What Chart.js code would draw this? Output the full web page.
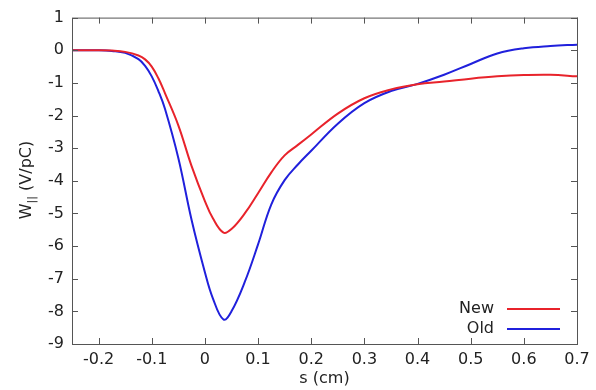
<!DOCTYPE html>
<html>
<head>
<meta charset="utf-8">
<script src="https://cdn.jsdelivr.net/npm/chart.js@4.4.1/dist/chart.umd.min.js"></script>
<style>
  html, body { margin: 0; padding: 0; background: #fff; }
  #wrap { width: 596px; height: 390px; }
</style>
</head>
<body>
<div id="wrap"><canvas id="wake"></canvas></div>
<script>
// s positions (cm) of the sampled points
const sValues = [-0.25, -0.2, -0.175, -0.15, -0.125, -0.1125, -0.1, -0.0875, -0.075, -0.05, -0.025, 0, 0.015, 0.035, 0.05, 0.075, 0.1, 0.125, 0.15, 0.175, 0.2, 0.25, 0.3, 0.35, 0.4, 0.45, 0.5, 0.55, 0.6, 0.65, 0.7];
// wake potential W|| (V/pC)
const newWake = [0, 0, -0.01, -0.05, -0.16, -0.28, -0.5, -0.86, -1.32, -2.3, -3.55, -4.62, -5.15, -5.59, -5.48, -5.0, -4.38, -3.74, -3.22, -2.9, -2.58, -1.94, -1.47, -1.2, -1.04, -0.96, -0.87, -0.8, -0.76, -0.75, -0.8];
const oldWake = [0, 0, -0.02, -0.08, -0.27, -0.48, -0.8, -1.25, -1.8, -3.3, -5.2, -6.8, -7.6, -8.25, -8.0, -7.1, -5.95, -4.72, -3.98, -3.5, -3.08, -2.25, -1.62, -1.25, -1.03, -0.75, -0.42, -0.1, 0.06, 0.13, 0.17];

const xTicks = [-0.2, -0.1, 0, 0.1, 0.2, 0.3, 0.4, 0.5, 0.6, 0.7];
const yTicks = [1, 0, -1, -2, -3, -4, -5, -6, -7, -8, -9];

const FONT = '"DejaVu Sans", Verdana, sans-serif';

const toPoints = ys => sValues.map((s, i) => ({ x: s, y: ys[i] }));

// gnuplot-like frame, mirrored inward ticks, axis titles and legend
const gnuplotLook = {
    id: 'gnuplotLook',
    afterDatasetsDraw(chart) {
        const { ctx, chartArea: a, scales } = chart;
        ctx.save();
        ctx.strokeStyle = '#555';
        ctx.lineWidth = 1;
        ctx.strokeRect(a.left + 0.5, a.top + 0.5, a.right - a.left, a.bottom - a.top);
        ctx.beginPath();
        xTicks.forEach(v => {
            const px = Math.round(scales.x.getPixelForValue(v)) + 0.5;
            ctx.moveTo(px, a.bottom); ctx.lineTo(px, a.bottom - 6);
            ctx.moveTo(px, a.top); ctx.lineTo(px, a.top + 6);
        });
        yTicks.forEach(v => {
            const py = Math.round(scales.y.getPixelForValue(v)) + 0.5;
            ctx.moveTo(a.left, py); ctx.lineTo(a.left + 6, py);
            ctx.moveTo(a.right, py); ctx.lineTo(a.right - 6, py);
        });
        ctx.stroke();

        // legend
        ctx.font = '16px ' + FONT;
        ctx.fillStyle = '#222';
        ctx.textAlign = 'right';
        ctx.textBaseline = 'middle';
        chart.data.datasets.forEach((ds, i) => {
            const y = 309 + i * 20;
            ctx.fillText(ds.label, 494, y);
            ctx.strokeStyle = ds.borderColor;
            ctx.lineWidth = 2;
            ctx.beginPath();
            ctx.moveTo(507, y); ctx.lineTo(560, y);
            ctx.stroke();
        });

        // axis titles
        ctx.fillStyle = '#222';
        ctx.textAlign = 'center';
        ctx.fillText('s (cm)', (a.left + a.right) / 2, 379);

        ctx.translate(27, 180);
        ctx.rotate(-Math.PI / 2);
        const main = 'W', sub = '||', rest = ' (V/pC)';
        ctx.font = '16px ' + FONT;
        const wMain = ctx.measureText(main).width;
        const wRest = ctx.measureText(rest).width;
        ctx.font = '11px ' + FONT;
        const wSub = ctx.measureText(sub).width;
        let x = -(wMain + wSub + wRest) / 2;
        ctx.textAlign = 'left';
        ctx.font = '16px ' + FONT;
        ctx.fillText(main, x, 0); x += wMain;
        ctx.font = '11px ' + FONT;
        ctx.fillText(sub, x, 5); x += wSub;
        ctx.font = '16px ' + FONT;
        ctx.fillText(rest, x, 0);
        ctx.restore();
    }
};

new Chart(document.getElementById('wake'), {
    type: 'line',
    data: {
        datasets: [
            { label: 'New', data: toPoints(newWake), borderColor: '#e8232b' },
            { label: 'Old', data: toPoints(oldWake), borderColor: '#2020dc' }
        ]
    },
    options: {
        responsive: true,
        maintainAspectRatio: false,
        animation: false,
        layout: { padding: { top: 15, right: 19, left: 0, bottom: 0 } },
        elements: {
            line: { borderWidth: 2, tension: 0.4, fill: false },
            point: { radius: 0 }
        },
        plugins: { legend: { display: false }, tooltip: { enabled: false } },
        scales: {
            x: {
                type: 'linear',
                min: -0.25,
                max: 0.7,
                afterBuildTicks: s => { s.ticks = xTicks.map(v => ({ value: v })); },
                afterFit: s => { s.height = 46; },
                grid: { display: false, drawTicks: false },
                border: { display: false },
                ticks: {
                    color: '#222',
                    font: { family: FONT, size: 16 },
                    padding: 6,
                    maxRotation: 0,
                    autoSkip: false,
                    callback: v => String(Math.round(v * 10) / 10)
                }
            },
            y: {
                min: -9,
                max: 1,
                afterBuildTicks: s => { s.ticks = yTicks.map(v => ({ value: v })); },
                afterFit: s => { s.width = 72; },
                grid: { display: false, drawTicks: false },
                border: { display: false },
                ticks: {
                    color: '#222',
                    font: { family: FONT, size: 16 },
                    padding: 8
                }
            }
        }
    },
    plugins: [gnuplotLook]
});
</script>
</body>
</html>
